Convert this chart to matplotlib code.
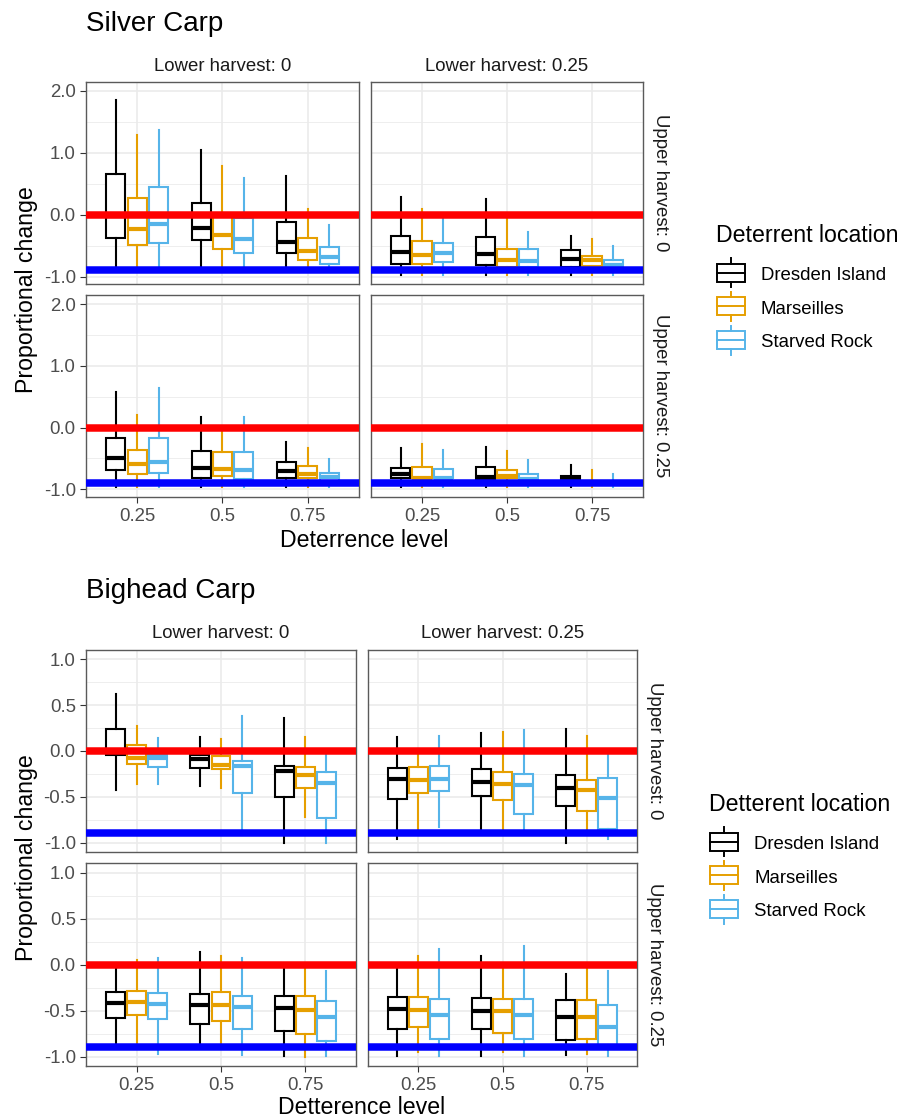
import matplotlib
matplotlib.use('Agg')
import matplotlib.pyplot as plt
from matplotlib.patches import Rectangle

plt.rcParams['font.family'] = ['Liberation Sans', 'DejaVu Sans']

W, H = 914, 1118

LEVELS = ['0.25', '0.5', '0.75']
LOCATIONS = ['Dresden Island', 'Marseilles', 'Starved Rock']
COLORS = ['#000000', '#E69F00', '#56B4E9']
LOWER_LABELS = ['Lower harvest: 0', 'Lower harvest: 0.25']
UPPER_LABELS = ['Upper harvest: 0', 'Upper harvest: 0.25']

## Box statistics, indexed [panel][location][level]
## panels: (upper 0, lower 0), (upper 0, lower 0.25), (upper 0.25, lower 0), (upper 0.25, lower 0.25)
silver_whishi = [
    [[1.86, 1.05, 0.63], [1.29, 0.79, 0.10], [1.37, 0.60, -0.16]],
    [[0.29, 0.25, -0.34], [0.09, -0.06, -0.39], [-0.05, -0.28, -0.51]],
    [[0.58, 0.17, -0.23], [0.21, -0.02, -0.33], [0.64, 0.17, -0.515]],
    [[-0.325, -0.31, -0.60], [-0.27, -0.38, -0.69], [-0.36, -0.52, -0.75]],
]
silver_q3 = [
    [[0.65, 0.185, -0.12], [0.276, -0.02, -0.37], [0.44, -0.05, -0.52]],
    [[-0.34, -0.36, -0.57], [-0.43, -0.55, -0.67], [-0.46, -0.55, -0.73]],
    [[-0.17, -0.38, -0.56], [-0.36, -0.40, -0.62], [-0.17, -0.39, -0.74]],
    [[-0.65, -0.64, -0.78], [-0.64, -0.68, -0.86], [-0.67, -0.75, -0.88]],
]
silver_med = [
    [[-0.02, -0.21, -0.44], [-0.23, -0.33, -0.58], [-0.15, -0.40, -0.68]],
    [[-0.60, -0.64, -0.72], [-0.655, -0.73, -0.73], [-0.62, -0.75, -0.82]],
    [[-0.50, -0.66, -0.71], [-0.585, -0.67, -0.75], [-0.56, -0.68, -0.80]],
    [[-0.75, -0.80, -0.83], [-0.81, -0.78, -0.89], [-0.81, -0.83, -0.90]],
]
silver_q1 = [
    [[-0.38, -0.41, -0.62], [-0.49, -0.56, -0.73], [-0.45, -0.62, -0.79]],
    [[-0.79, -0.82, -0.84], [-0.80, -0.84, -0.83], [-0.76, -0.85, -0.88]],
    [[-0.68, -0.81, -0.82], [-0.76, -0.79, -0.82], [-0.74, -0.83, -0.88]],
    [[-0.82, -0.84, -0.86], [-0.82, -0.81, -0.92], [-0.82, -0.86, -0.92]],
]
silver_whislo = [
    [[-0.90, -0.90, -0.90], [-0.90, -0.90, -0.90], [-0.90, -0.90, -0.90]],
    [[-0.97, -0.97, -0.97], [-0.97, -0.97, -0.97], [-0.97, -0.97, -0.97]],
    [[-0.97, -0.97, -0.97], [-0.96, -0.96, -0.96], [-0.96, -0.96, -0.96]],
    [[-0.97, -0.97, -0.97], [-0.96, -0.96, -0.96], [-0.96, -0.96, -0.96]],
]

bighead_whishi = [
    [[0.62, 0.15, 0.36], [0.27, 0.13, 0.153], [0.145, 0.375, -0.044]],
    [[0.15, 0.197, 0.24], [0.02, 0.207, 0.167], [0.164, 0.222, -0.05]],
    [[0.02, 0.137, 0.0], [0.054, 0.087, 0.0], [0.072, 0.076, -0.073]],
    [[0.0, 0.093, -0.10], [0.09, 0.0, 0.0], [0.166, 0.206, -0.073]],
]
bighead_q3 = [
    [[0.237, -0.04, -0.16], [0.065, -0.055, -0.175], [-0.05, -0.106, -0.23]],
    [[-0.186, -0.20, -0.262], [-0.175, -0.233, -0.32], [-0.164, -0.248, -0.30]],
    [[-0.304, -0.322, -0.34], [-0.29, -0.304, -0.347], [-0.315, -0.34, -0.395]],
    [[-0.358, -0.369, -0.384], [-0.358, -0.376, -0.39], [-0.376, -0.38, -0.445]],
]
bighead_med = [
    [[0.0, -0.085, -0.218], [-0.076, -0.153, -0.26], [-0.08, -0.164, -0.35]],
    [[-0.31, -0.342, -0.40], [-0.32, -0.357, -0.43], [-0.306, -0.371, -0.51]],
    [[-0.42, -0.445, -0.478], [-0.405, -0.44, -0.49], [-0.434, -0.467, -0.572]],
    [[-0.488, -0.51, -0.572], [-0.496, -0.503, -0.572], [-0.55, -0.553, -0.677]],
]
bighead_q1 = [
    [[-0.05, -0.19, -0.506], [-0.145, -0.196, -0.40], [-0.18, -0.455, -0.735]],
    [[-0.52, -0.495, -0.60], [-0.455, -0.54, -0.655], [-0.437, -0.69, -0.85]],
    [[-0.586, -0.648, -0.723], [-0.553, -0.612, -0.756], [-0.597, -0.698, -0.832]],
    [[-0.698, -0.70, -0.824], [-0.677, -0.748, -0.807], [-0.807, -0.81, -0.88]],
]
bighead_whislo = [
    [[-0.43, -0.38, -1.0], [-0.36, -0.40, -0.72], [-0.36, -0.86, -1.0]],
    [[-0.965, -0.88, -1.0], [-0.88, -0.88, -0.88], [-0.826, -0.88, -0.96]],
    [[-0.87, -0.87, -0.995], [-0.87, -0.87, -1.0], [-0.973, -0.988, -0.995]],
    [[-0.995, -0.995, -0.98], [-0.95, -0.95, -0.97], [-0.99, -0.99, -0.995]],
]

REF_ZERO = 0.0
REF_LOW = -0.9

SMALL = 13.4
MEDIUM = 16.7
LARGE = 20


def fig_rect(l, t, r, b):
    return [l / W, 1 - b / H, (r - l) / W, (b - t) / H]


def draw_species(fig, lax, panels_px, stats, ylim, yticks, yminor, title,
                 title_y, strip_y, xlabel, xlabel_y, legend_title, legend_x, legend_y):
    whishi, q3, med, q1, whislo = stats
    for p, (l, t, r, b) in enumerate(panels_px):
        ax = fig.add_axes(fig_rect(l, t, r, b))
        ax.set_axisbelow(True)
        for k in range(3):
            bxp_stats = []
            for j in range(3):
                bxp_stats.append({'med': med[p][k][j], 'q1': q1[p][k][j], 'q3': q3[p][k][j],
                                  'whislo': whislo[p][k][j], 'whishi': whishi[p][k][j],
                                  'fliers': []})
            pos = [j + 1 + (k - 1) * 0.25 for j in range(3)]
            c = COLORS[k]
            ax.bxp(bxp_stats, positions=pos, widths=0.225, showcaps=False, showfliers=False,
                   patch_artist=True, manage_ticks=False,
                   boxprops=dict(facecolor='white', edgecolor=c, linewidth=1.5),
                   whiskerprops=dict(color=c, linewidth=1.5),
                   medianprops=dict(color=c, linewidth=3.0, solid_capstyle='butt'))
        ax.axhline(REF_ZERO, color='#FF0000', lw=5.4, zorder=5)
        ax.axhline(REF_LOW, color='#0000FF', lw=5.4, zorder=5)
        ax.set_xlim(0.4, 3.6)
        ax.set_ylim(*ylim)
        ax.set_xticks([1, 2, 3])
        ax.set_xticklabels(LEVELS)
        ax.set_yticks(yticks)
        ax.set_yticklabels(['%.1f' % v for v in yticks])
        ax.set_yticks(yminor, minor=True)
        ax.grid(which='major', color='#EBEBEB', lw=1.2)
        ax.grid(which='minor', axis='y', color='#EBEBEB', lw=0.6)
        ax.tick_params(which='major', length=4.5, width=0.8, color='#333333',
                       labelcolor='#4D4D4D', labelsize=SMALL)
        ax.tick_params(axis='x', pad=3.5)
        ax.tick_params(axis='y', pad=2.8)
        ax.tick_params(which='minor', length=0)
        for s in ax.spines.values():
            s.set_color('#5A5A5A')
            s.set_linewidth(1.0)
        col = p % 2
        row = p // 2
        if col == 1:
            ax.tick_params(axis='y', left=False, labelleft=False)
            lax.text(r + 18, (t + b) / 2, UPPER_LABELS[row], rotation=270, ha='center',
                     va='center', fontsize=SMALL, color='#1A1A1A')
        if row == 0:
            ax.tick_params(axis='x', bottom=False, labelbottom=False)
            lax.text((l + r) / 2, strip_y, LOWER_LABELS[col], ha='center', va='baseline',
                     fontsize=SMALL, color='#1A1A1A')

    left = panels_px[0][0]
    right = panels_px[1][2]
    top = panels_px[0][1]
    bottom = panels_px[2][3]
    lax.text(left, title_y, title, ha='left', va='baseline', fontsize=LARGE, color='black')
    lax.text((left + right) / 2, xlabel_y, xlabel, ha='center', va='baseline',
             fontsize=MEDIUM, color='black')
    lax.text(27, (top + bottom) / 2, 'Proportional change', rotation=90, ha='center',
             va='center', fontsize=MEDIUM, color='black')

    ## Legend
    lax.text(legend_x, legend_y, legend_title, ha='left', va='baseline',
             fontsize=MEDIUM, color='black')
    for k, name in enumerate(LOCATIONS):
        cx = legend_x + 15
        cy = legend_y + 31 + k * 33.7
        c = COLORS[k]
        lax.add_patch(Rectangle((cx - 14, cy - 9), 28, 18, facecolor='white',
                                edgecolor=c, lw=1.4))
        lax.plot([cx, cx], [cy - 14.5, cy - 9], color=c, lw=1.4)
        lax.plot([cx, cx], [cy + 9, cy + 14.5], color=c, lw=1.4)
        lax.plot([cx - 14, cx + 14], [cy, cy], color=c, lw=1.4)
        lax.text(legend_x + 45, cy + 7.3, name, ha='left', va='baseline',
                 fontsize=SMALL, color='black')


fig = plt.figure(figsize=(W / 100, H / 100), dpi=100)
lax = fig.add_axes([0, 0, 1, 1])
lax.set_xlim(0, W)
lax.set_ylim(H, 0)
lax.axis('off')

silver_px = [(86, 81.7, 359, 284), (371, 81.7, 643, 284),
             (86, 295, 359, 496.7), (371, 295, 643, 496.7)]
bighead_px = [(86, 650, 356, 851.7), (368, 650, 637, 851.7),
              (86, 863.3, 356, 1065.7), (368, 863.3, 637, 1065.7)]

draw_species(fig, lax, silver_px,
             (silver_whishi, silver_q3, silver_med, silver_q1, silver_whislo),
             (-1.12, 2.15), [-1.0, 0.0, 1.0, 2.0], [-0.5, 0.5, 1.5],
             'Silver Carp', 31, 71, 'Deterrence level', 546.7,
             'Deterrent location', 715.7, 241.7)
draw_species(fig, lax, bighead_px,
             (bighead_whishi, bighead_q3, bighead_med, bighead_q1, bighead_whislo),
             (-1.1, 1.1), [-1.0, -0.5, 0.0, 0.5, 1.0], [-0.75, -0.25, 0.25, 0.75],
             'Bighead Carp', 598.3, 638.3, 'Detterence level', 1114,
             'Detterent location', 709, 810.6)

fig.savefig('out.png', dpi=100)
